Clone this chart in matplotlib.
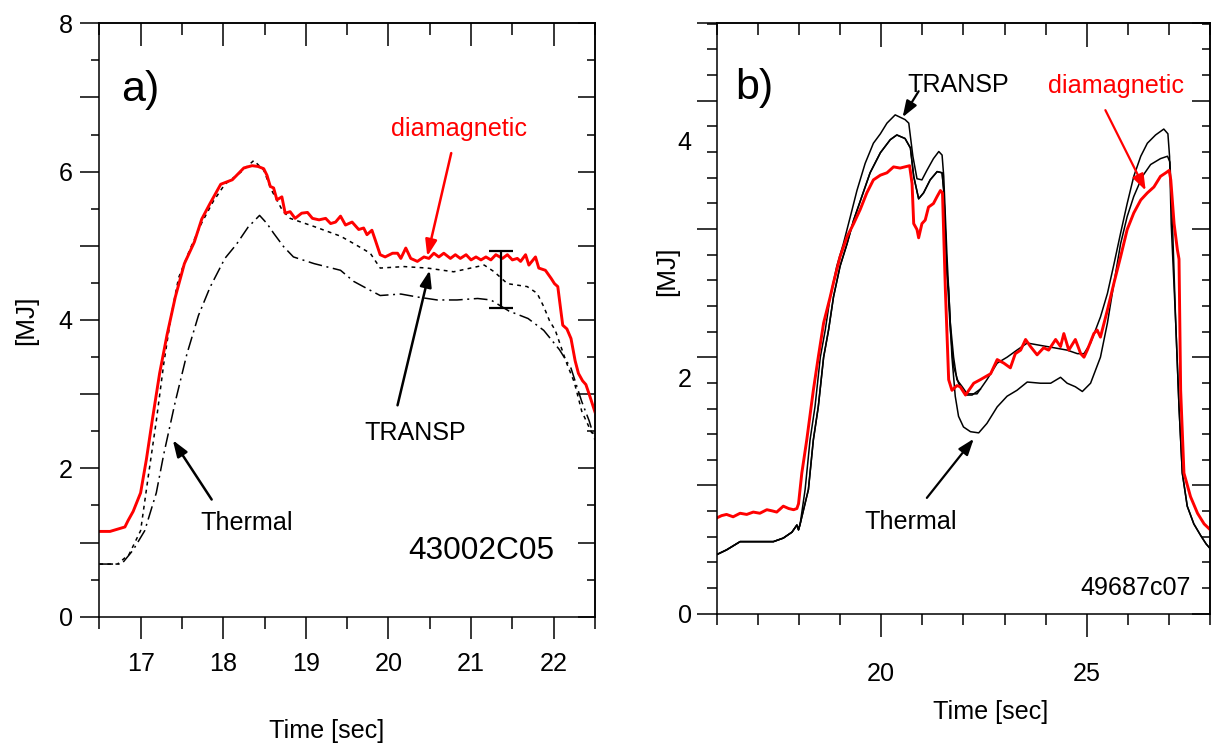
import matplotlib
matplotlib.use("Agg")
import matplotlib.pyplot as plt
from matplotlib import font_manager
import numpy as np

# ---------------- fonts ----------------
_names = {f.name for f in font_manager.fontManager.ttflist}
if "Liberation Sans Narrow" in _names:
    FONT, K = "Liberation Sans Narrow", 1.0
else:
    FONT, K = "Liberation Sans", 0.86
plt.rcParams["font.family"] = [FONT, "DejaVu Sans"]

RED = "#ff0000"

# ---------------- data: panel a (43002C05) ----------------
a_diam_t = [16.5, 16.63, 16.75, 16.81, 16.85, 16.91, 17.0, 17.07, 17.14, 17.23,
            17.32, 17.42, 17.53, 17.65, 17.74, 17.84, 17.97, 18.11, 18.25, 18.35,
            18.42, 18.49, 18.53, 18.57, 18.61, 18.65, 18.71, 18.75, 18.81, 18.87,
            18.95, 19.02, 19.08, 19.16, 19.24, 19.30, 19.36, 19.42, 19.48, 19.56,
            19.64, 19.70, 19.74, 19.80, 19.84, 19.90, 19.96, 20.05, 20.11, 20.15,
            20.21, 20.27, 20.35, 20.43, 20.49, 20.55, 20.61, 20.67, 20.75, 20.81,
            20.87, 20.94, 21.00, 21.06, 21.12, 21.18, 21.24, 21.30, 21.38, 21.44,
            21.50, 21.56, 21.60, 21.66, 21.70, 21.78, 21.82, 21.90, 21.97, 22.01,
            22.05, 22.09, 22.11, 22.16, 22.21, 22.26, 22.30, 22.35, 22.39, 22.43,
            22.5]
a_diam_v = [1.15, 1.15, 1.19, 1.21, 1.30, 1.42, 1.67, 2.12, 2.64, 3.28,
            3.80, 4.31, 4.76, 5.05, 5.36, 5.57, 5.83, 5.89, 6.05, 6.08,
            6.07, 6.04, 5.95, 5.80, 5.78, 5.62, 5.66, 5.44, 5.46, 5.37,
            5.44, 5.45, 5.37, 5.35, 5.37, 5.30, 5.32, 5.40, 5.28, 5.32,
            5.22, 5.24, 5.15, 5.21, 5.08, 4.88, 4.85, 4.90, 4.90, 4.83,
            4.97, 4.83, 4.79, 4.85, 4.83, 4.90, 4.85, 4.90, 4.83, 4.88,
            4.83, 4.88, 4.81, 4.85, 4.81, 4.85, 4.81, 4.88, 4.83, 4.88,
            4.81, 4.83, 4.79, 4.88, 4.74, 4.85, 4.70, 4.67, 4.56, 4.49,
            4.45, 4.10, 3.93, 3.88, 3.75, 3.45, 3.28, 3.18, 3.13, 3.00,
            2.76]

a_transp_t = [16.5, 16.72, 16.86, 17.0, 17.09, 17.19, 17.28, 17.37, 17.46, 17.60,
              17.74, 17.88, 18.02, 18.21, 18.37, 18.49, 18.58, 18.72, 18.81, 19.10,
              19.42, 19.58, 19.78, 19.90, 20.19, 20.47, 20.79, 21.16, 21.28, 21.44,
              21.68, 21.80, 21.88, 21.95, 22.02, 22.16, 22.25, 22.34, 22.46, 22.5]
a_transp_v = [0.71, 0.71, 0.84, 1.16, 1.87, 2.64, 3.41, 4.06, 4.57, 4.96,
              5.31, 5.60, 5.83, 5.99, 6.15, 6.02, 5.76, 5.47, 5.37, 5.26,
              5.13, 5.03, 4.90, 4.70, 4.72, 4.70, 4.65, 4.74, 4.65, 4.49,
              4.45, 4.36, 4.18, 3.99, 3.86, 3.41, 3.16, 2.77, 2.48, 2.48]

a_therm_t = [16.5, 16.77, 16.91, 17.05, 17.19, 17.28, 17.42, 17.56, 17.70, 17.84,
             18.02, 18.16, 18.30, 18.44, 18.53, 18.61, 18.73, 18.85, 19.10, 19.42,
             19.58, 19.78, 19.90, 20.15, 20.35, 20.59, 20.83, 21.08, 21.24, 21.46,
             21.69, 21.88, 22.07, 22.21, 22.34, 22.43, 22.5]
a_therm_v = [0.71, 0.71, 0.90, 1.16, 1.67, 2.19, 2.90, 3.54, 4.06, 4.44,
             4.83, 5.02, 5.25, 5.41, 5.30, 5.17, 4.99, 4.85, 4.76, 4.67,
             4.52, 4.40, 4.33, 4.35, 4.31, 4.27, 4.27, 4.29, 4.27, 4.12,
             4.02, 3.86, 3.60, 3.35, 2.90, 2.64, 2.38]

a_err_t = [21.36]
a_err_lo = [4.16]
a_err_hi = [4.93]

a_xticks = [17, 18, 19, 20, 21, 22]
a_xminor = [16.5, 17.5, 18.5, 19.5, 20.5, 21.5, 22.5]
a_yticks = [0, 1, 2, 3, 4, 5, 6, 7, 8]
a_ytick_labels = ["0", "", "2", "", "4", "", "6", "", "8"]
a_yminor = [0.5, 1.5, 2.5, 3.5, 4.5, 5.5, 6.5, 7.5]

# ---------------- data: panel b (49687c07) ----------------
b_diam_t = [16.0, 16.12, 16.24, 16.40, 16.57, 16.73, 16.89, 17.05, 17.22, 17.35,
            17.46, 17.62, 17.75, 17.87, 17.95, 17.99,
            18.07, 18.19, 18.35, 18.47, 18.60, 18.76, 18.84, 19.0, 19.17, 19.33,
            19.49, 19.65, 19.81, 19.98, 20.14, 20.30, 20.46, 20.69, 20.75, 20.79,
            20.87, 20.91, 20.99, 21.07, 21.15, 21.27, 21.36, 21.44, 21.49, 21.56,
            21.64, 21.72, 21.84, 21.92, 22.05, 22.25, 22.41, 22.66, 22.82, 22.98,
            23.14, 23.26, 23.39, 23.51, 23.63, 23.79, 23.95, 24.07, 24.24, 24.36,
            24.44, 24.56, 24.72, 24.85, 24.93, 25.01, 25.17, 25.25, 25.33, 25.50,
            25.66, 25.82, 25.98, 26.14, 26.31, 26.47, 26.63, 26.79, 26.92, 27.0,
            27.04, 27.12, 27.20, 27.24, 27.28, 27.36, 27.52, 27.69, 27.85, 28.0]
b_diam_v = [0.81, 0.83, 0.84, 0.82, 0.85, 0.84, 0.86, 0.85, 0.88, 0.87,
            0.86, 0.91, 0.89, 0.88, 0.89, 0.93,
            1.19, 1.47, 1.89, 2.17, 2.46, 2.68, 2.80, 3.02, 3.19, 3.30,
            3.42, 3.56, 3.67, 3.71, 3.73, 3.78, 3.77, 3.79, 3.64, 3.30,
            3.25, 3.18, 3.30, 3.33, 3.44, 3.47, 3.53, 3.58, 3.56, 2.74,
            1.98, 1.89, 1.93, 1.92, 1.85, 1.95, 1.98, 2.03, 2.15, 2.12,
            2.08, 2.20, 2.23, 2.32, 2.26, 2.19, 2.25, 2.23, 2.32, 2.26,
            2.37, 2.23, 2.32, 2.20, 2.17, 2.23, 2.37, 2.40, 2.34, 2.57,
            2.80, 3.02, 3.25, 3.39, 3.50, 3.56, 3.61, 3.70, 3.73, 3.75,
            3.67, 3.30, 3.08, 3.00, 1.89, 1.19, 0.99, 0.85, 0.76, 0.71]

# common pre-heating part of the black (TRANSP / thermal) curves
b_base_t = [16.0, 16.24, 16.57, 16.81, 17.38, 17.62, 17.83, 17.95, 17.99]
b_base_v = [0.50, 0.54, 0.61, 0.61, 0.61, 0.64, 0.69, 0.75, 0.71]

# TRANSP upper curve
b_up_t = [18.03, 18.15, 18.27, 18.39, 18.52, 18.64, 18.76, 18.92, 19.08, 19.25,
          19.41, 19.61, 19.81, 19.98, 20.14, 20.34, 20.58, 20.67, 20.77, 20.87,
          20.99, 21.11, 21.27, 21.40, 21.48, 21.52, 21.60, 21.68, 21.76, 21.84,
          21.97, 22.09, 22.33, 22.57, 22.82, 23.06, 23.30, 23.55, 23.87, 24.20,
          24.52, 24.77, 24.93, 25.09, 25.33, 25.50, 25.66, 25.82, 25.98, 26.14,
          26.31, 26.47, 26.67, 26.87, 26.97, 27.01, 27.05, 27.16, 27.24, 27.32,
          27.44, 27.60, 27.77, 27.90, 28.0]
b_up_v = [0.76, 1.05, 1.47, 1.75, 2.17, 2.40, 2.68, 2.94, 3.13, 3.36,
          3.58, 3.81, 3.98, 4.06, 4.15, 4.22, 4.18, 4.15, 3.87, 3.68,
          3.67, 3.75, 3.85, 3.91, 3.88, 3.70, 3.02, 2.46, 2.17, 1.98,
          1.92, 1.86, 1.86, 1.98, 2.12, 2.17, 2.23, 2.29, 2.27, 2.25,
          2.23, 2.20, 2.20, 2.29, 2.51, 2.71, 2.96, 3.22, 3.47, 3.70,
          3.87, 3.98, 4.05, 4.10, 4.06, 3.87, 3.30, 2.46, 1.75, 1.19,
          0.91, 0.76, 0.66, 0.59, 0.55]

# TRANSP lower curve (first pulse; merges with the upper one in the dip)
b_mid_t = [18.03, 18.23, 18.35, 18.47, 18.60, 18.72, 18.84, 19.0, 19.17, 19.33,
           19.53, 19.73, 19.98, 20.22, 20.38, 20.58, 20.71, 20.79, 20.91, 21.03,
           21.19, 21.36, 21.48, 21.52, 21.60, 21.68, 21.76, 21.88, 22.05, 22.21,
           22.41]
b_mid_v = [0.76, 1.05, 1.47, 1.75, 2.17, 2.40, 2.68, 2.94, 3.13, 3.33,
           3.53, 3.73, 3.90, 4.01, 4.05, 4.02, 3.94, 3.70, 3.51, 3.56,
           3.67, 3.74, 3.73, 3.58, 2.88, 2.40, 2.09, 1.95, 1.85, 1.85,
           1.90]

# thermal curve after the first pulse
b_th_t = [21.64, 21.72, 21.80, 21.88, 22.0, 22.17, 22.37, 22.57, 22.82, 23.06,
          23.30, 23.55, 23.87, 24.12, 24.36, 24.52, 24.72, 24.89, 25.09, 25.33,
          25.50, 25.66, 25.82, 25.98, 26.14, 26.35, 26.55, 26.79, 26.96, 27.02,
          27.08, 27.16, 27.24, 27.32, 27.44, 27.60, 27.77, 27.90, 28.0]
b_th_v = [2.74, 2.17, 1.84, 1.67, 1.58, 1.54, 1.53, 1.61, 1.75, 1.84,
          1.89, 1.96, 1.95, 1.95, 2.00, 1.95, 1.92, 1.88, 1.95, 2.17,
          2.46, 2.80, 3.13, 3.36, 3.53, 3.70, 3.80, 3.85, 3.87, 3.82,
          3.30, 2.46, 1.75, 1.19, 0.91, 0.76, 0.66, 0.59, 0.55]

b_xticks = [20, 25]
b_xminor = [16, 17, 18, 19, 21, 22, 23, 24, 26, 27, 28]
b_ylabels_at = [0, 2, 4]
b_ytick_step = 0.217
b_ymajor = [0, 1.085, 2.17, 3.255, 4.34, 5.0]

# ---------------- figure ----------------
fig = plt.figure(figsize=(12.11, 7.48), dpi=100)
axA = fig.add_axes([0.0820, 0.1755, 0.4093, 0.7934])
axB = fig.add_axes([0.5918, 0.1795, 0.4076, 0.7902])

PX = 0.72  # points per pixel at 100 dpi
LW_AX = 1.1
FS = 21 * K

for ax in (axA, axB):
    for s in ax.spines.values():
        s.set_linewidth(LW_AX)

# ---- panel a curves ----
axA.plot(a_therm_t, a_therm_v, color="black", lw=1.1, ls=(0, (9, 3, 1.3, 3)))
axA.plot(a_transp_t, a_transp_v, color="black", lw=1.1, ls=(0, (2.5, 2.8)))
axA.plot(a_diam_t, a_diam_v, color=RED, lw=2.1)
err_mid = [(lo + hi) / 2 for lo, hi in zip(a_err_lo, a_err_hi)]
err_half = [(hi - lo) / 2 for lo, hi in zip(a_err_lo, a_err_hi)]
axA.errorbar(a_err_t, err_mid, yerr=err_half, fmt="none", ecolor="black",
             elinewidth=1.6, capsize=8.6, capthick=1.6)

axA.set_xlim(16.5, 22.5)
axA.set_ylim(0, 8)
axA.set_xticks(a_xticks)
axA.set_xticks(a_xminor, minor=True)
axA.set_yticks(a_yticks, labels=a_ytick_labels)
axA.set_yticks(a_yminor, minor=True)
axA.tick_params(axis="x", which="major", direction="out", length=22 * PX,
                width=LW_AX, labelsize=FS, pad=9.5)
axA.tick_params(axis="x", which="minor", direction="out", length=12 * PX, width=LW_AX)
axA.tick_params(axis="y", which="major", direction="out", length=19 * PX,
                width=LW_AX, labelsize=FS, pad=5.5)
axA.tick_params(axis="y", which="minor", direction="out", length=8 * PX, width=LW_AX)

secAt = axA.secondary_xaxis("top")
secAt.set_xticks(a_xticks)
secAt.set_xticks(a_xminor, minor=True)
secAt.tick_params(axis="x", which="major", direction="in", length=23 * PX,
                  width=LW_AX, labeltop=False)
secAt.tick_params(axis="x", which="minor", direction="in", length=12 * PX, width=LW_AX)
secAt.spines["top"].set_linewidth(LW_AX)

secAr = axA.secondary_yaxis("right")
secAr.set_yticks(a_yticks)
secAr.set_yticks(a_yminor, minor=True)
secAr.tick_params(axis="y", which="major", direction="in", length=17 * PX,
                  width=LW_AX, labelright=False)
secAr.tick_params(axis="y", which="minor", direction="in", length=8 * PX, width=LW_AX)
secAr.spines["right"].set_linewidth(LW_AX)

# panel a texts and arrows
axA.text(16.76, 7.1, "a)", ha="left", va="center", fontsize=36 * K)
axA.text(20.86, 6.57, "diamagnetic", ha="center", va="center", fontsize=FS, color=RED)
axA.text(20.33, 2.48, "TRANSP", ha="center", va="center", fontsize=FS)
axA.text(18.28, 1.27, "Thermal", ha="center", va="center", fontsize=FS)
axA.text(22.01, 0.88, "43002C05", ha="right", va="center", fontsize=26.5 * K)

ARW = "-|>,head_length=0.7,head_width=0.25"
axA.annotate("", xy=(20.47, 4.86), xytext=(20.76, 6.25),
             arrowprops=dict(arrowstyle=ARW, color=RED, lw=1.8, mutation_scale=14,
                             shrinkA=0, shrinkB=0))
axA.annotate("", xy=(20.50, 4.67), xytext=(20.11, 2.85),
             arrowprops=dict(arrowstyle=ARW, color="black", lw=1.8, mutation_scale=14,
                             shrinkA=0, shrinkB=0))
axA.annotate("", xy=(17.39, 2.38), xytext=(17.86, 1.58),
             arrowprops=dict(arrowstyle=ARW, color="black", lw=1.8, mutation_scale=14,
                             shrinkA=0, shrinkB=0))

# ---- panel b curves ----
b_up_full_t = b_base_t + b_up_t
b_up_full_v = b_base_v + b_up_v
b_mid_full_t = b_base_t + b_mid_t
b_mid_full_v = b_base_v + b_mid_v
k_th = sum(1 for t in b_mid_t if t < b_th_t[0])
b_th_full_t = b_base_t + b_mid_t[:k_th] + b_th_t
b_th_full_v = b_base_v + b_mid_v[:k_th] + b_th_v

axB.plot(b_th_full_t, b_th_full_v, color="black", lw=1.1)
axB.plot(b_mid_full_t, b_mid_full_v, color="black", lw=1.1)
axB.plot(b_up_full_t, b_up_full_v, color="black", lw=1.1)
axB.plot(b_diam_t, b_diam_v, color=RED, lw=2.1)

axB.set_xlim(16, 28)
axB.set_ylim(0, 5)
axB.set_xticks(b_xticks)
axB.set_xticks(b_xminor, minor=True)
b_yminor = [k * b_ytick_step for k in range(1, 24) if k % 5 != 0]
axB.set_yticks(b_ymajor, labels=[""] * len(b_ymajor))
axB.set_yticks(b_yminor, minor=True)
axB.tick_params(axis="x", which="major", direction="out", length=23 * PX,
                width=LW_AX, labelsize=FS, pad=18.5)
axB.tick_params(axis="x", which="minor", direction="out", length=11 * PX, width=LW_AX)
axB.tick_params(axis="y", which="major", direction="out", length=20 * PX, width=LW_AX)
axB.tick_params(axis="y", which="minor", direction="out", length=10 * PX, width=LW_AX)

secBl = axB.secondary_yaxis("left")
secBl.set_yticks(b_ylabels_at)
secBl.tick_params(axis="y", which="both", length=0, labelsize=FS, pad=18)
secBl.spines["left"].set_visible(False)

secBt = axB.secondary_xaxis("top")
secBt.set_xticks(b_xticks)
secBt.set_xticks(b_xminor, minor=True)
secBt.tick_params(axis="x", which="major", direction="in", length=24 * PX,
                  width=LW_AX, labeltop=False)
secBt.tick_params(axis="x", which="minor", direction="in", length=12 * PX, width=LW_AX)
secBt.spines["top"].set_linewidth(LW_AX)

secBr = axB.secondary_yaxis("right")
secBr.set_yticks(b_ymajor)
secBr.set_yticks(b_yminor, minor=True)
secBr.tick_params(axis="y", which="major", direction="in", length=18 * PX,
                  width=LW_AX, labelright=False)
secBr.tick_params(axis="y", which="minor", direction="in", length=8 * PX, width=LW_AX)
secBr.spines["right"].set_linewidth(LW_AX)

axB.text(16.45, 4.45, "b)", ha="left", va="center", fontsize=36 * K)
axB.text(21.88, 4.47, "TRANSP", ha="center", va="center", fontsize=FS)
axB.text(25.70, 4.46, "diamagnetic", ha="center", va="center", fontsize=FS, color=RED)
axB.text(20.72, 0.775, "Thermal", ha="center", va="center", fontsize=FS)
axB.text(27.53, 0.22, "49687c07", ha="right", va="center", fontsize=FS)

axB.annotate("", xy=(20.52, 4.20), xytext=(20.91, 4.42),
             arrowprops=dict(arrowstyle=ARW, color="black", lw=1.6, mutation_scale=14,
                             shrinkA=0, shrinkB=0))
axB.annotate("", xy=(26.43, 3.58), xytext=(25.45, 4.26),
             arrowprops=dict(arrowstyle=ARW, color=RED, lw=1.6, mutation_scale=14,
                             shrinkA=0, shrinkB=0))
axB.annotate("", xy=(22.25, 1.48), xytext=(21.11, 0.98),
             arrowprops=dict(arrowstyle=ARW, color="black", lw=1.6, mutation_scale=14,
                             shrinkA=0, shrinkB=0))

# ---- axis titles ----
W, H = 1211.0, 748.0
fig.text(26 / W, 1 - 320 / H, "[MJ]", rotation=90, ha="center", va="center",
         fontsize=22 * K, family=["Liberation Sans", "DejaVu Sans"])
fig.text(667 / W, 1 - 271 / H, "[MJ]", rotation=90, ha="center", va="center",
         fontsize=22 * K, family=["Liberation Sans", "DejaVu Sans"])
fig.text(327 / W, 1 - 731 / H, "Time [sec]", ha="center", va="center", fontsize=FS)
fig.text(991 / W, 1 - 711.5 / H, "Time [sec]", ha="center", va="center", fontsize=FS)

fig.savefig("out.png", dpi=100)
